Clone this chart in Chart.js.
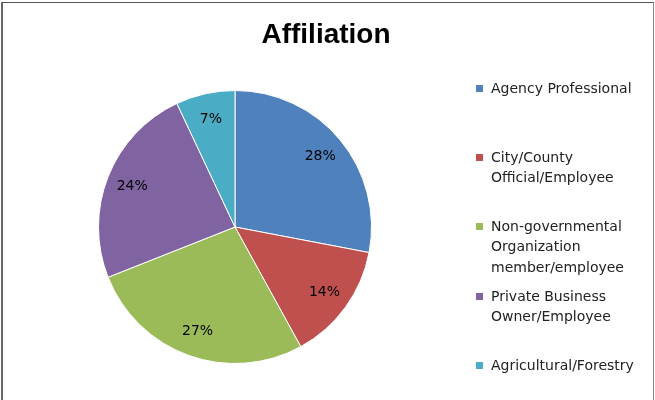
<!DOCTYPE html>
<html>
<head>
<meta charset="utf-8">
<script src="https://cdn.jsdelivr.net/npm/chart.js@4/dist/chart.umd.min.js"></script>
<style>
  body { margin: 0; background: #fff; }
  #wrap { position: relative; width: 655px; height: 400px; }
  #frame { position: absolute; left: 1px; top: 2px; width: 650px; height: 398px;
           border-left: 2px solid #666; border-top: 1px solid #555; border-right: 1px solid #888; }
  canvas { position: absolute; left: 0; top: 0; }
</style>
</head>
<body>
<div id="wrap">
  <div id="frame"></div>
  <canvas id="pie-chart" width="655" height="400"></canvas>
</div>
<script>
// chart data
const title = "Affiliation";
const categories = [
    ["Agency Professional"],
    ["City/County", "Official/Employee"],
    ["Non-governmental", "Organization", "member/employee"],
    ["Private Business", "Owner/Employee"],
    ["Agricultural/Forestry"]
];
const shares = [28, 14, 27, 24, 7];
const colors = ["#4F81BD", "#C0504D", "#9BBB59", "#8064A2", "#4BACC6"];
// y of the first line of each legend entry
const legendTops = [89, 158, 227, 297, 366];

const textFont = '14px "DejaVu Sans", Verdana, sans-serif';

// draws title, slice percentages and the legend
const decorations = {
    id: 'decorations',
    afterDraw(chart) {
        const ctx = chart.ctx;
        ctx.save();
        ctx.fillStyle = "#000";
        ctx.textAlign = "center";
        ctx.textBaseline = "middle";
        ctx.font = 'bold 28px "Liberation Sans", Arial, sans-serif';
        ctx.fillText(title, 326, 35);

        // percentages inside slices
        ctx.font = textFont;
        const arcs = chart.getDatasetMeta(0).data;
        arcs.forEach((arc, i) => {
            const mid = (arc.startAngle + arc.endAngle) / 2;
            const r = arc.outerRadius * 0.81;
            ctx.fillText(shares[i] + "%", arc.x + Math.cos(mid) * r, arc.y + Math.sin(mid) * r);
        });

        // legend
        ctx.textAlign = "left";
        categories.forEach((lines, i) => {
            ctx.fillStyle = colors[i];
            ctx.fillRect(476, legendTops[i] - 4, 7, 7);
            ctx.fillStyle = "#222";
            lines.forEach((line, j) => {
                ctx.fillText(line, 491, legendTops[i] + j * 20.5);
            });
        });
        ctx.restore();
    }
};

const canvas = document.getElementById("pie-chart").getContext("2d");
const pieChart = new Chart(canvas, {
    type: 'pie',
    data: {
        labels: categories.map(c => c.join(" ")),
        datasets: [{
            data: shares,
            backgroundColor: colors,
            borderColor: "#fff",
            borderWidth: 1
        }]
    },
    options: {
        responsive: false,
        animation: false,
        layout: { padding: { left: 97, right: 282, top: 90, bottom: 36 } },
        plugins: {
            legend: { display: false },
            title: { display: false },
            tooltip: { enabled: false }
        }
    },
    plugins: [decorations]
});
</script>
</body>
</html>
